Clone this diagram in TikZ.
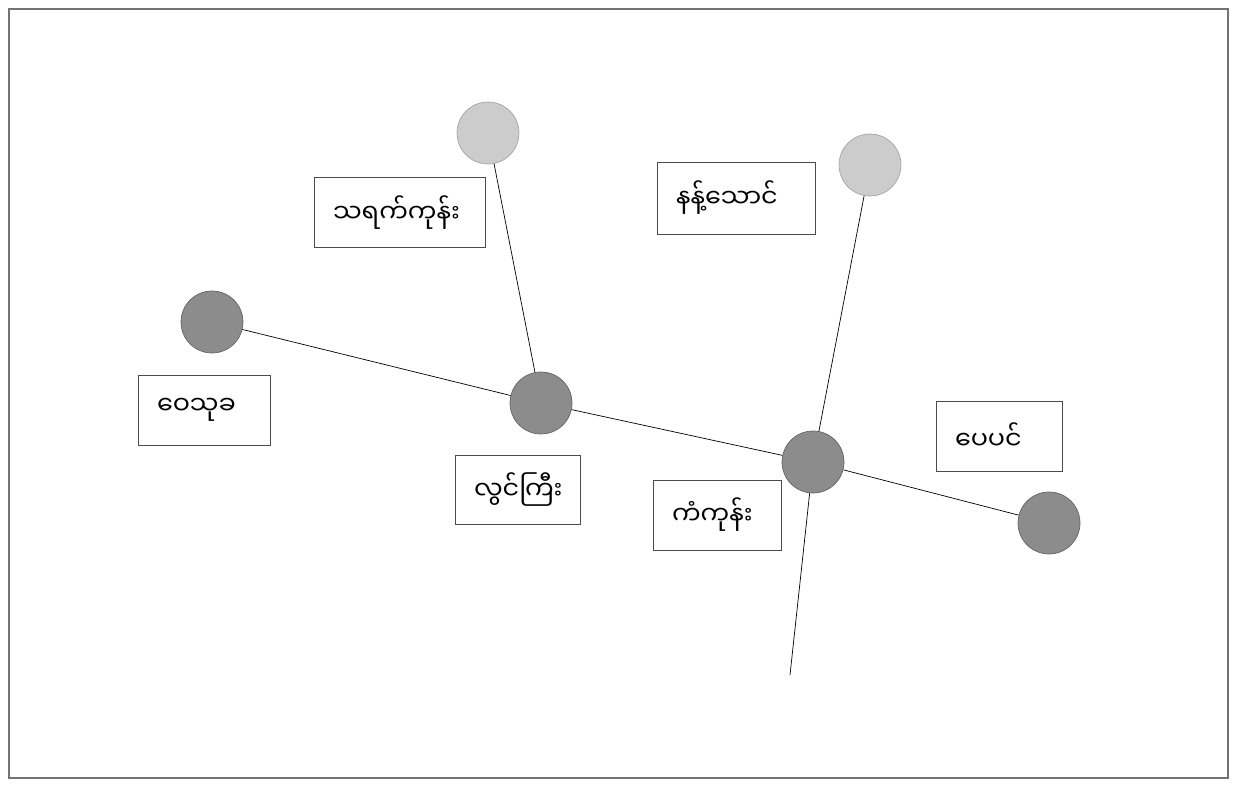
\documentclass[tikz,border=0pt]{standalone}
\usepackage{fontspec}
\newfontfamily\mmfont[Script=Myanmar]{Noto Sans Myanmar UI}
\usepackage{tikz}

\begin{document}
\begin{tikzpicture}[
  x=0.02cm, y=-0.02cm,
  town/.style={circle, draw=black!60, fill=black!45, minimum size=12.4mm, inner sep=0pt},
  farm/.style={circle, draw=black!35, fill=black!20, minimum size=12.4mm, inner sep=0pt},
  label box/.style={draw=black!70, font=\mmfont\fontsize{14.5}{17}\selectfont, align=left, inner xsep=0.38cm, inner ysep=0pt, minimum height=1.40cm}
]
  \useasboundingbox (0,0) rectangle (1237,786);
  \draw[black!55, line width=0.6pt] (9,9) rectangle (1228,778);
  % places
  \node[town] (waysukha) at (212,322) {};
  \node[town] (hlaingyi) at (541,403) {};
  \node[town] (kankone) at (813,462) {};
  \node[town] (pepin) at (1049,523) {};
  \node[farm] (thayet) at (488,133) {};
  \node[farm] (nanthaung) at (870,165) {};
  \coordinate (south) at (790,675);
  % roads
  \draw (waysukha) -- (hlaingyi) -- (kankone) -- (pepin);
  \draw (thayet) -- (hlaingyi);
  \draw (nanthaung) -- (kankone) -- (south);
  % names
  \node[label box, text width=2.66cm] (thayetname) at (399.5,212.5) {သရက်ကုန်း};
  \node[label box, text width=2.40cm, minimum height=1.44cm] (nanthaungname) at (736,198) {နန့်သောင်};
  \node[label box, text width=1.88cm] (waysukhaname) at (204,410) {ဝေသုခ};
  \node[label box, text width=1.74cm, minimum height=1.38cm] (hlaingyiname) at (517.5,489.5) {လွင်ကြီး};
  \node[label box, text width=1.80cm] (kankonename) at (717,515) {ကံကုန်း};
  \node[label box, text width=1.76cm] (pepinname) at (999,436) {ပေပင်};
\end{tikzpicture}
\end{document}
